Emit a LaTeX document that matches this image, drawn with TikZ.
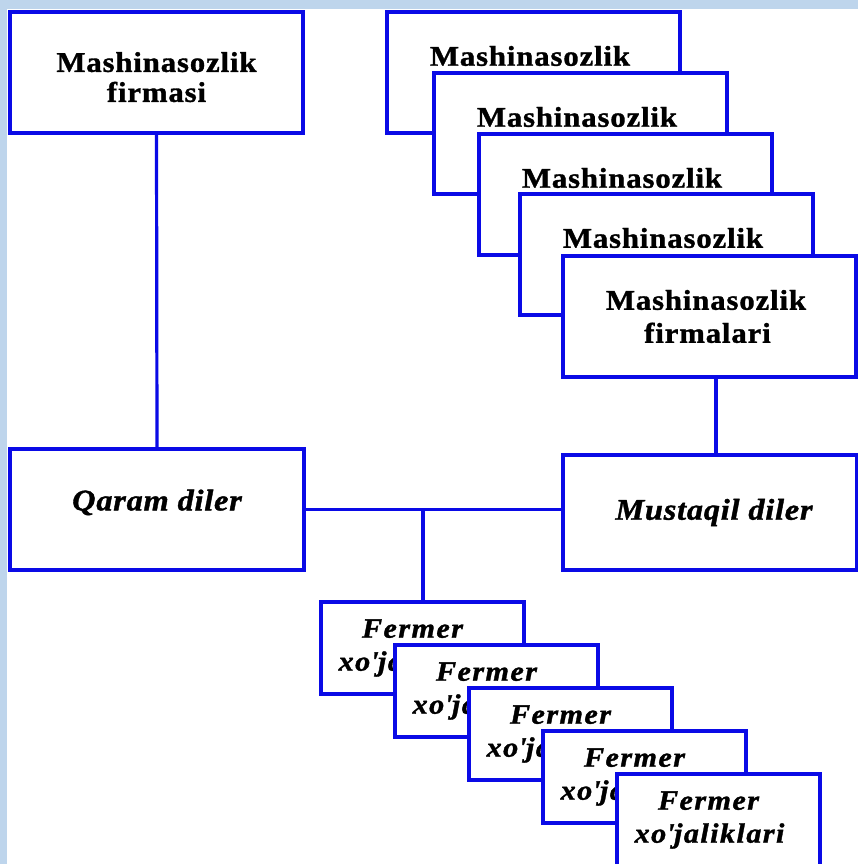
\documentclass[tikz,border=0pt]{standalone}
\usepackage{fontspec}
\setmainfont{Liberation Serif}
\newfontfamily\mfont[FakeStretch=1.08, LetterSpace=3, FakeBold=1.2]{Liberation Serif Bold}
\newfontfamily\ffont[FakeStretch=1.08, LetterSpace=5, FakeBold=1.2]{Liberation Serif Bold Italic}
\newfontfamily\dfont[FakeStretch=1.08, LetterSpace=2.5, FakeBold=1.2]{Liberation Serif Bold Italic}
\definecolor{lineblue}{RGB}{10,10,230}
\definecolor{bgblue}{RGB}{190,213,236}
\tikzset{
  box/.style={draw=lineblue, line width=3.2pt, fill=white, anchor=north west,
    inner sep=0pt, outer sep=0pt, align=center, text=black},
  mbox/.style={box, minimum width=293pt, minimum height=121pt,
    font=\mfont\fontsize{28.5}{33}\selectfont},
  dbox/.style={box, minimum width=294pt, minimum height=121pt,
    font=\dfont\fontsize{30}{35}\selectfont},
  fermerbox/.style={box, minimum width=203pt, minimum height=92pt,
    font=\ffont\fontsize{28}{33}\selectfont},
  conn/.style={draw=lineblue, line width=3.2pt}
}
\newcommand{\padr}[1]{\rule{#1}{0pt}}
\newcommand{\stacktext}{Mashinasozlik\padr{7pt}\\firmalari\padr{4pt}}
\newcommand{\fermertext}{Fermer\padr{20pt}\\xo\textquotesingle jaliklari\padr{18pt}}
\begin{document}
\begin{tikzpicture}[x=1pt,y=-1pt]
\useasboundingbox (0,0) rectangle (858,864);
\clip (0,0) rectangle (858,864);
\fill[bgblue] (0,0) rectangle (858,864);
\fill[white] (7,9) rectangle (858,864);
% single firm
\node[mbox, font=\mfont\fontsize{28.5}{30}\selectfont] (firm) at (10,12)
  {\rule{0pt}{29pt}Mashinasozlik\\firmasi};
% stack of firms
\node[mbox] (s1) at (387,12) {\stacktext};
\node[mbox] (s2) at (434,73) {\stacktext};
\node[mbox] (s3) at (479,134) {\stacktext};
\node[mbox] (s4) at (520,194) {\stacktext};
\node[mbox] (s5) at (563,256) {\stacktext};
% dealers
\node[dbox] (qaram) at (10,449) {\rule[-19pt]{0pt}{19pt}Qaram diler};
\node[dbox, minimum height=115pt] (mustaqil) at (563,455) {\padr{8pt}Mustaqil diler};
% farms
\node[fermerbox] (f1) at (321,602) {\fermertext};
\node[fermerbox] (f2) at (395,645) {\fermertext};
\node[fermerbox] (f3) at (469,688) {\fermertext};
\node[fermerbox] (f4) at (543,731) {\fermertext};
\node[fermerbox] (f5) at (617,774) {\fermertext};
% connectors
\coordinate (junc) at (423,509);
\draw[conn] (firm.south) -- (qaram.north);
\draw[conn] (s5.south -| 716,0) -- (mustaqil.north -| 716,0);
\draw[conn] (qaram.east) -- (qaram.east -| mustaqil.west);
\draw[conn] (junc) -- (junc |- f1.north);
\end{tikzpicture}
\end{document}
